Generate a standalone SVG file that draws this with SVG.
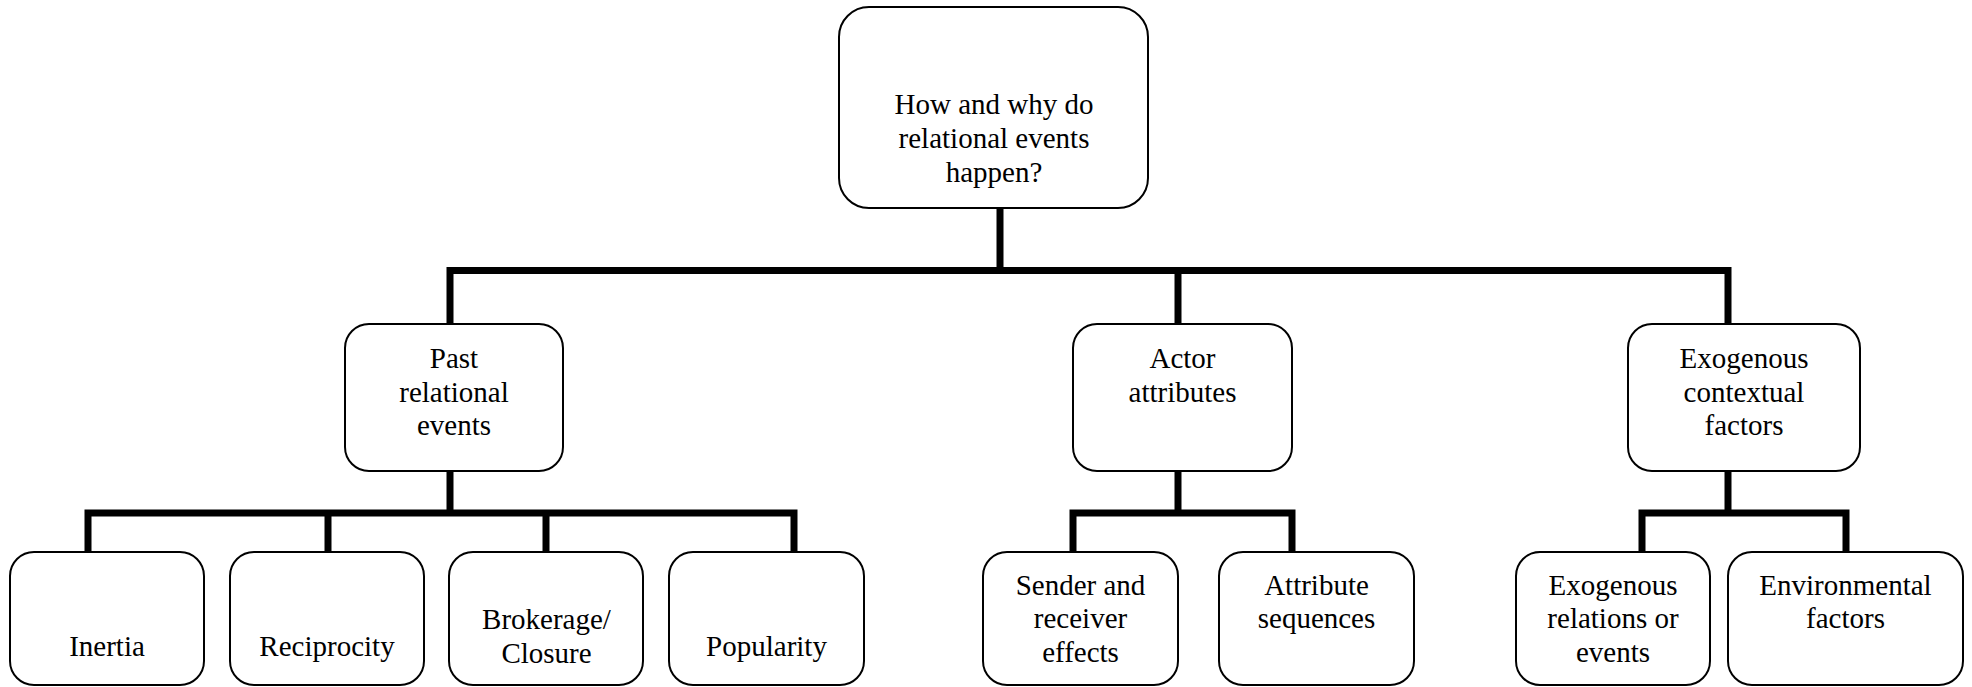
<svg xmlns="http://www.w3.org/2000/svg" width="1972" height="687" viewBox="0 0 1972 687">
<style>
.box{fill:#fff;stroke:#000;stroke-width:2}
.t{font-family:"Liberation Serif","Times New Roman",serif;font-size:29px;fill:#000;text-anchor:middle}
.c{fill:none;stroke:#000;stroke-width:7;stroke-linejoin:miter;stroke-linecap:butt}
</style>
<rect width="1972" height="687" fill="#fff"/>
<g id="connectors">
<path class="c" d="M1000 208 V270.5"/>
<path class="c" d="M450 324 V270.5 H1728 V324"/>
<path class="c" d="M1178 270.5 V324"/>
<path class="c" d="M450 471 V513"/>
<path class="c" d="M88 552 V513 H794 V552"/>
<path class="c" d="M328 513 V552"/>
<path class="c" d="M546 513 V552"/>
<path class="c" d="M1178 471 V513"/>
<path class="c" d="M1073 552 V513 H1292 V552"/>
<path class="c" d="M1728 471 V513"/>
<path class="c" d="M1642 552 V513 H1846 V552"/>
</g>
<g id="root">
<rect class="box" x="839" y="7" width="309" height="201" rx="30"/>
<text class="t" x="994" y="113.5">How and why do</text>
<text class="t" x="994" y="147.5">relational events</text>
<text class="t" x="994" y="181.5">happen?</text>
</g>
<g id="past">
<rect class="box" x="345" y="324" width="218" height="147" rx="24"/>
<text class="t" x="454" y="368">Past</text>
<text class="t" x="454" y="402">relational</text>
<text class="t" x="454" y="435">events</text>
</g>
<g id="actor">
<rect class="box" x="1073" y="324" width="219" height="147" rx="24"/>
<text class="t" x="1182.5" y="368">Actor</text>
<text class="t" x="1182.5" y="402">attributes</text>
</g>
<g id="exo">
<rect class="box" x="1628" y="324" width="232" height="147" rx="24"/>
<text class="t" x="1744" y="368">Exogenous</text>
<text class="t" x="1744" y="402">contextual</text>
<text class="t" x="1744" y="435">factors</text>
</g>
<g id="inertia">
<rect class="box" x="10" y="552" width="194" height="133" rx="24"/>
<text class="t" x="107" y="656">Inertia</text>
</g>
<g id="reciprocity">
<rect class="box" x="230" y="552" width="194" height="133" rx="24"/>
<text class="t" x="327" y="656">Reciprocity</text>
</g>
<g id="brokerage">
<rect class="box" x="449" y="552" width="194" height="133" rx="24"/>
<text class="t" x="546.5" y="629">Brokerage/</text>
<text class="t" x="546.5" y="663">Closure</text>
</g>
<g id="popularity">
<rect class="box" x="669" y="552" width="195" height="133" rx="24"/>
<text class="t" x="766.5" y="656">Popularity</text>
</g>
<g id="sender">
<rect class="box" x="983" y="552" width="195" height="133" rx="24"/>
<text class="t" x="1080.5" y="595">Sender and</text>
<text class="t" x="1080.5" y="628">receiver</text>
<text class="t" x="1080.5" y="662">effects</text>
</g>
<g id="attrseq">
<rect class="box" x="1219" y="552" width="195" height="133" rx="24"/>
<text class="t" x="1316.5" y="595">Attribute</text>
<text class="t" x="1316.5" y="628">sequences</text>
</g>
<g id="exorel">
<rect class="box" x="1516" y="552" width="194" height="133" rx="24"/>
<text class="t" x="1613" y="595">Exogenous</text>
<text class="t" x="1613" y="628">relations or</text>
<text class="t" x="1613" y="662">events</text>
</g>
<g id="env">
<rect class="box" x="1728" y="552" width="235" height="133" rx="24"/>
<text class="t" x="1845.5" y="595">Environmental</text>
<text class="t" x="1845.5" y="628">factors</text>
</g>
</svg>
